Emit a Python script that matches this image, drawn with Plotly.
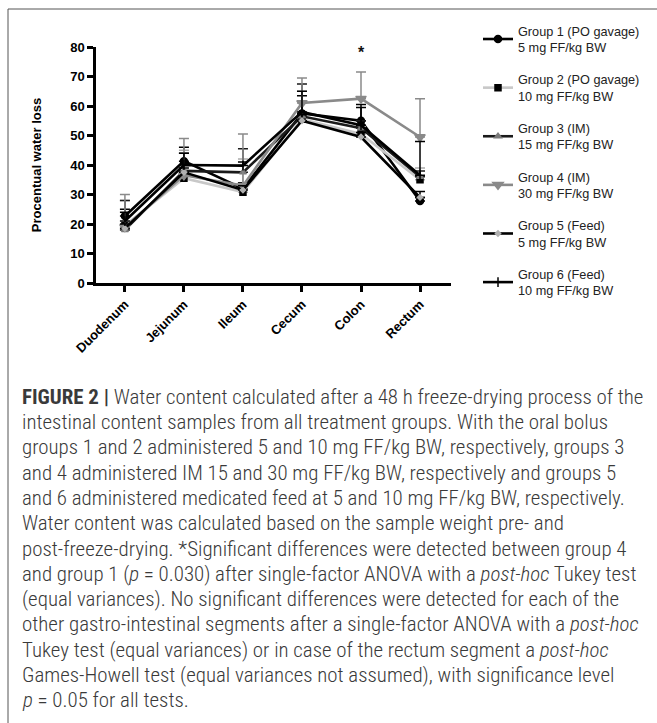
import plotly.graph_objects as go

W, H = 657, 723

segments = ["Duodenum", "Jejunum", "Ileum", "Cecum", "Colon", "Rectum"]

group_names = [
    "Group 1 (PO gavage)<br>5 mg FF/kg BW",
    "Group 2 (PO gavage)<br>10 mg FF/kg BW",
    "Group 3 (IM)<br>15 mg FF/kg BW",
    "Group 4 (IM)<br>30 mg FF/kg BW",
    "Group 5 (Feed)<br>5 mg FF/kg BW",
    "Group 6 (Feed)<br>10 mg FF/kg BW",
]

g1_mean = [22.7, 41.3, 32.0, 57.5, 55.0, 27.8]
g2_mean = [19.5, 35.5, 30.8, 55.5, 50.5, 35.0]
g3_mean = [18.0, 38.0, 37.5, 56.5, 52.5, 36.0]
g4_mean = [19.0, 36.5, 33.0, 61.0, 62.5, 49.5]
g5_mean = [18.5, 37.5, 31.5, 55.0, 49.5, 29.0]
g6_mean = [21.0, 40.0, 39.8, 58.0, 53.5, 36.5]

g1_sd = [2.3, 4.7, 2.0, 6.0, 5.5, 1.2]
g2_sd = [8.5, 9.5, 11.2, 9.5, 2.5, 4.0]
g3_sd = [10.0, 6.0, 8.0, 11.0, 2.5, 2.0]
g4_sd = [11.0, 12.5, 17.5, 8.5, 9.0, 13.0]
g5_sd = [1.5, 1.5, 1.5, 2.0, 1.5, 2.0]
g6_sd = [3.0, 4.0, 1.2, 7.0, 6.0, 11.5]

significance_label = "*"
significance_segment = "Colon"
significance_value = 78

means = [g1_mean, g2_mean, g3_mean, g4_mean, g5_mean, g6_mean]
sds = [g1_sd, g2_sd, g3_sd, g4_sd, g5_sd, g6_sd]

styles = [
    dict(line="#000000", marker="#000000", symbol="circle", size=7),
    dict(line="#c8c8c8", marker="#000000", symbol="square", size=6),
    dict(line="#1a1a1a", marker="#7a7a7a", symbol="triangle-up", size=6),
    dict(line="#8a8a8a", marker="#8a8a8a", symbol="triangle-down", size=9),
    dict(line="#000000", marker="#b0b0b0", symbol="diamond", size=4),
    dict(line="#000000", marker="#000000", symbol="line-ns-open", size=7),
]

fig = go.Figure()
for i in range(len(group_names)):
    s = styles[i]
    fig.add_trace(go.Scatter(
        x=segments, y=means[i], name=group_names[i], mode="lines+markers",
        legendgroup=f"g{i}",
        line=dict(color=s["line"], width=2.6),
        marker=dict(color=s["marker"], symbol=s["symbol"], size=s["size"],
                    line=dict(color=s["marker"], width=1.5)),
        error_y=dict(type="data", array=sds[i], arrayminus=[0] * len(sds[i]),
                     symmetric=False, color=s["line"] if s["line"] != "#c8c8c8" else "#aaaaaa",
                     thickness=1.5, width=5),
        cliponaxis=False,
    ))

fig.add_annotation(x=significance_segment, y=significance_value, xref="x", yref="y",
                   text="<b>" + significance_label + "</b>", showarrow=False,
                   font=dict(family="Liberation Sans, Arial", size=16, color="#111"))

caption_lines = [
    "<b>FIGURE 2 |</b> Water content calculated after a 48 h freeze-drying process of the",
    "intestinal content samples from all treatment groups. With the oral bolus",
    "groups 1 and 2 administered 5 and 10 mg FF/kg BW, respectively, groups 3",
    "and 4 administered IM 15 and 30 mg FF/kg BW, respectively and groups 5",
    "and 6 administered medicated feed at 5 and 10 mg FF/kg BW, respectively.",
    "Water content was calculated based on the sample weight pre- and",
    "post-freeze-drying. *Significant differences were detected between group 4",
    "and group 1 (<i>p</i> = 0.030) after single-factor ANOVA with a <i>post-hoc</i> Tukey test",
    "(equal variances). No significant differences were detected for each of the",
    "other gastro-intestinal segments after a single-factor ANOVA with a <i>post-hoc</i>",
    "Tukey test (equal variances) or in case of the rectum segment a <i>post-hoc</i>",
    "Games-Howell test (equal variances not assumed), with significance level",
    "<i>p</i> = 0.05 for all tests.",
]
y0, dy = 396.7, 25.3
for k, line in enumerate(caption_lines):
    fig.add_annotation(x=20 / W, y=1 - (y0 + k * dy) / H, xref="paper", yref="paper",
                       text=line, showarrow=False, xanchor="left", yanchor="middle",
                       font=dict(family="Liberation Sans Narrow, Roboto Condensed, Liberation Sans, Arial",
                                 size=20.9, color="#3a3a3a", weight=300))

# frame lines
fig.add_shape(type="line", xref="paper", yref="paper", x0=8 / W, x1=1, y0=1 - 9 / H, y1=1 - 9 / H,
              line=dict(color="#555555", width=1))
fig.add_shape(type="line", xref="paper", yref="paper", x0=8 / W, x1=8 / W, y0=0, y1=1 - 9 / H,
              line=dict(color="#555555", width=1))

fig.update_layout(
    width=W, height=H,
    margin=dict(l=0, r=0, t=0, b=0, autoexpand=False),
    paper_bgcolor="white", plot_bgcolor="white",
    font=dict(family="Liberation Sans, Arial", color="#000"),
    xaxis=dict(domain=[96 / W, 451 / W], range=[-0.49, 5.525], type="category", automargin=False,
               showline=True, linecolor="#000", linewidth=2.5, showgrid=False, zeroline=False,
               ticks="outside", ticklen=6, tickwidth=2.5, tickcolor="#000",
               tickangle=-45, tickfont=dict(family="Liberation Sans, Arial", size=13, color="#000", weight="bold")),
    yaxis=dict(domain=[1 - 283 / H, 1 - 47 / H], range=[0, 80], automargin=False,
               showline=True, linecolor="#000", linewidth=2.5, showgrid=False, zeroline=False,
               ticks="outside", ticklen=6, tickwidth=2.5, tickcolor="#000",
               tickvals=[0, 10, 20, 30, 40, 50, 60, 70, 80],
               tickfont=dict(family="Liberation Sans, Arial", size=13, color="#000", weight="bold"),
               title=dict(text="<b>Procentual water loss</b>", standoff=26,
                          font=dict(family="Liberation Sans, Arial", size=13, color="#000"))),
    legend=dict(x=478 / W, y=1 - 16 / H, xanchor="left", yanchor="top",
                font=dict(family="Liberation Sans, Arial", size=12.7, color="#222"),
                tracegroupgap=12.6, bgcolor="rgba(0,0,0,0)", traceorder="grouped"),
    showlegend=True,
)

fig.write_html("out.html", config={"displayModeBar": False},
               post_script="document.body.style.margin='0';document.body.style.overflow='hidden';")
